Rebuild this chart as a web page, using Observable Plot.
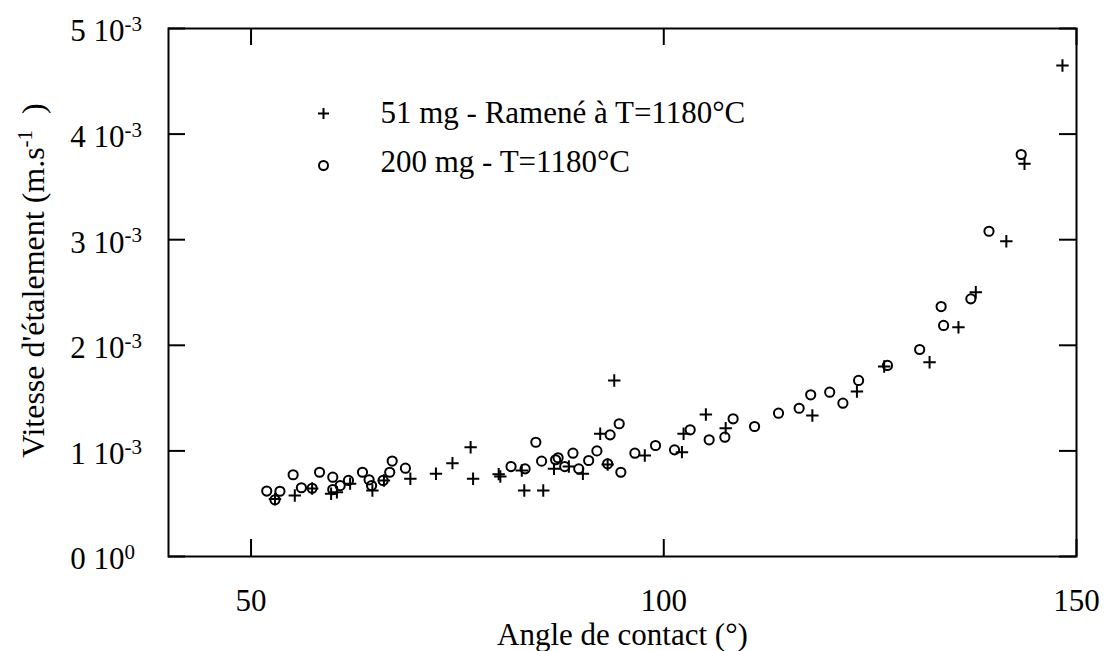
<!DOCTYPE html>
<html><head><meta charset="utf-8">
<script src="https://cdn.jsdelivr.net/npm/d3@7"></script>
<script src="https://cdn.jsdelivr.net/npm/@observablehq/plot@0.6"></script>
<style>body{margin:0;background:#fff}</style>
</head><body><div id="chart"></div>
<script>
// Series "51 mg - Ramené à T=1180°C": contact angle (°) and spreading speed (×1e-3 m/s)
const angle51 = [52.9,55.3,57.4,59.7,60.4,62.0,64.7,66.1,69.3,72.4,74.4,76.6,76.9,80.0,80.2,82.8,83.1,85.4,86.7,88.5,90.2,92.3,93.2,94.0,97.7,102.2,102.4,105.1,107.5,118.0,123.4,126.7,132.2,135.7,137.8,141.5,143.7,148.3];
const v51     = [0.545,0.578,0.644,0.594,0.609,0.69,0.625,0.72,0.736,0.783,0.884,1.035,0.736,0.78,0.758,0.814,0.625,0.625,0.83,0.852,0.783,1.162,0.871,1.667,0.956,0.988,1.162,1.345,1.215,1.335,1.563,1.799,1.84,2.171,2.503,2.986,3.719,4.65];
// Series "200 mg - T=1180°C"
const angle200 = [51.9,52.9,53.5,55.1,56.1,57.4,58.3,59.9,59.9,60.8,61.8,63.5,64.3,64.6,66.0,66.8,67.1,68.7,81.5,83.2,84.5,85.2,86.9,87.2,88.0,89.0,89.7,90.9,91.9,93.2,93.5,94.6,94.8,96.5,99.0,101.3,103.2,105.5,107.4,108.4,111.0,113.9,116.4,117.8,120.1,121.7,123.6,127.1,131.0,133.6,133.9,137.2,139.4,143.3];
const v200     = [0.62,0.537,0.618,0.774,0.651,0.646,0.798,0.751,0.634,0.672,0.72,0.798,0.726,0.672,0.72,0.798,0.904,0.836,0.852,0.83,1.082,0.903,0.916,0.935,0.852,0.978,0.83,0.909,1.0,0.878,1.152,1.257,0.798,0.978,1.051,1.01,1.2,1.105,1.13,1.304,1.231,1.357,1.404,1.531,1.556,1.452,1.667,1.809,1.96,2.367,2.188,2.44,3.08,3.807];

const xTicks = [50, 100, 150];
const yTicks = [0, 1, 2, 3, 4, 5];
const yTickMantissa = yTicks.map(d => `${d} 10`);
const yTickExponent = yTicks.map(d => d === 0 ? "0" : "-3");
const xLabel = "Angle de contact (°)";
const yLabelParts = ["Vitesse d'étalement (m.s", "-1", "  )"];
const legendLabels = ["51 mg - Ramené à T=1180°C", "200 mg - T=1180°C"];

const W = 1106, H = 651, mL = 168, mR = 30, mT = 28, mB = 95;
const fw = W - mL - mR, fh = H - mT - mB;
const tickLen = 17;
const font = "'Liberation Serif', 'Times New Roman', serif";

const plusSymbol = {
  draw(ctx, size) {
    const r = Math.sqrt(size / Math.PI);
    ctx.moveTo(-r, 0); ctx.lineTo(r, 0);
    ctx.moveTo(0, -r); ctx.lineTo(0, r);
  }
};

const d51 = angle51.map((a, i) => ({a, v: v51[i]}));
const d200 = angle200.map((a, i) => ({a, v: v200[i]}));
const yTickData = yTicks.map((t, i) => ({t, m: yTickMantissa[i], e: yTickExponent[i]}));

const txt = {fill: "#000", fontSize: 31, lineAnchor: "middle"};

const chart = Plot.plot({
  width: W, height: H,
  marginLeft: mL, marginRight: mR, marginTop: mT, marginBottom: mB,
  x: {domain: [40, 150], axis: null},
  y: {domain: [0, 5], axis: null},
  style: {fontFamily: font, background: "#fff", color: "#000", overflow: "visible"},
  marks: [
    Plot.frame({stroke: "#000", strokeWidth: 2}),
    Plot.tickX(xTicks, {x: d => d, insetTop: fh - tickLen, stroke: "#000", strokeWidth: 2}),
    Plot.tickX(xTicks, {x: d => d, insetBottom: fh - tickLen, stroke: "#000", strokeWidth: 2}),
    Plot.tickY(yTicks, {y: d => d, insetRight: fw - tickLen, stroke: "#000", strokeWidth: 2}),
    Plot.tickY(yTicks, {y: d => d, insetLeft: fw - tickLen, stroke: "#000", strokeWidth: 2}),
    Plot.text(xTicks, {...txt, x: d => d, frameAnchor: "bottom", dy: 45, textAnchor: "middle", text: d => String(d)}),
    Plot.text(yTickData, {...txt, y: "t", frameAnchor: "left", dx: -44, dy: 3, textAnchor: "end", text: "m"}),
    Plot.text(yTickData, {...txt, y: "t", frameAnchor: "left", dx: -44, dy: -4, textAnchor: "start", text: "e", fontSize: 21}),
    Plot.text([xLabel], {...txt, frameAnchor: "bottom", dy: 79, textAnchor: "middle", text: d => d}),
    Plot.text([yLabelParts.join("")], {...txt, fontSize: 32, frameAnchor: "left", dx: -135, dy: -12, rotate: -90, textAnchor: "middle", text: d => d}),
    Plot.dot(d200, {x: "a", y: "v", symbol: "circle", r: 4.6, stroke: "#000", strokeWidth: 2, fill: "none"}),
    Plot.dot(d51, {x: "a", y: "v", symbol: plusSymbol, r: 6.2, stroke: "#000", strokeWidth: 2}),
    Plot.dot([legendLabels[0]], {frameAnchor: "top-left", dx: 155, dy: 85, symbol: plusSymbol, r: 5.5, stroke: "#000", strokeWidth: 2}),
    Plot.dot([legendLabels[1]], {frameAnchor: "top-left", dx: 155, dy: 137, symbol: "circle", r: 4.5, stroke: "#000", strokeWidth: 2, fill: "none"}),
    Plot.text([legendLabels[0]], {...txt, frameAnchor: "top-left", dx: 212, dy: 85, textAnchor: "start", text: d => d}),
    Plot.text([legendLabels[1]], {...txt, frameAnchor: "top-left", dx: 212, dy: 134, textAnchor: "start", text: d => d})
  ]
});

// superscript in the y-axis title
const full = yLabelParts.join("");
chart.querySelectorAll("text").forEach(t => {
  if (t.textContent === full) {
    while (t.firstChild) t.removeChild(t.firstChild);
    t.appendChild(document.createTextNode(yLabelParts[0]));
    const sup = document.createElementNS("http://www.w3.org/2000/svg", "tspan");
    sup.setAttribute("dy", "-12");
    sup.setAttribute("font-size", "21");
    sup.textContent = yLabelParts[1];
    t.appendChild(sup);
    const rest = document.createElementNS("http://www.w3.org/2000/svg", "tspan");
    rest.setAttribute("dy", "12");
    rest.setAttribute("style", "white-space:pre");
    rest.textContent = yLabelParts[2];
    t.appendChild(rest);
  }
});

document.getElementById("chart").appendChild(chart);
</script>
</body></html>
